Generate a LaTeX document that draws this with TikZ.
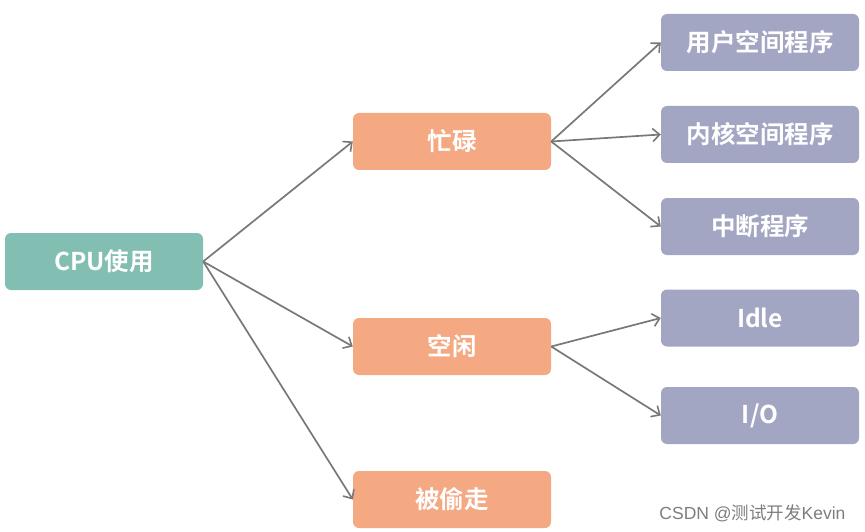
\documentclass[tikz,border=0pt]{standalone}
\usepackage{fontspec}
\newfontfamily\cjk{Noto Sans CJK SC}
\newfontfamily\cjkb{Noto Sans CJK SC Bold}
\newfontfamily\lat{Liberation Sans}
\usetikzlibrary{arrows.meta}
\definecolor{tealbox}{RGB}{130,191,178}
\definecolor{orangebox}{RGB}{244,169,130}
\definecolor{purplebox}{RGB}{163,166,194}
\definecolor{arrowgray}{RGB}{120,120,120}
\definecolor{wmgray}{RGB}{125,125,125}
\begin{document}
\begin{tikzpicture}[x=1pt,y=-1pt,
  box/.style={rounded corners=6pt, minimum width=198pt, minimum height=57pt, inner sep=0pt, text=white, font=\cjkb\fontsize{24.5}{26}\selectfont},
  rootbox/.style={box, fill=tealbox},
  midbox/.style={box, fill=orangebox},
  leafbox/.style={box, fill=purplebox},
  conn/.style={draw=arrowgray, line width=1.7pt, -{Straight Barb[length=7pt,width=13pt,line width=1.6pt]}}
]
\useasboundingbox (0,0) rectangle (865,532);
\node[rootbox] (cpu) at (104,261.5) {CPU使用};
\node[midbox] (busy) at (452,141.5) {忙碌};
\node[midbox] (idle) at (452,346.5) {空闲};
\node[midbox] (steal) at (452,499.5) {被偷走};
\node[leafbox] (user) at (760,42.5) {用户空间程序};
\node[leafbox] (kernel) at (760,134.5) {内核空间程序};
\node[leafbox] (irq) at (760,226.5) {中断程序};
\node[leafbox] (idl) at (760,318) {Idle};
\node[leafbox] (io) at (760,415.5) {I/O};
\node[anchor=east, text=wmgray, font=\cjk\fontsize{17.5}{19}\selectfont] (wm) at (849,513) {{\lat CSDN @}测试开发{\lat Kevin}};
\draw[conn] (cpu.east) -- (busy.west);
\draw[conn] (cpu.east) -- (idle.west);
\draw[conn] (cpu.east) -- (steal.west);
\draw[conn] (busy.east) -- (user.west);
\draw[conn] (busy.east) -- (kernel.west);
\draw[conn] (busy.east) -- (irq.west);
\draw[conn] (idle.east) -- (idl.west);
\draw[conn] (idle.east) -- (io.west);
\end{tikzpicture}
\end{document}
